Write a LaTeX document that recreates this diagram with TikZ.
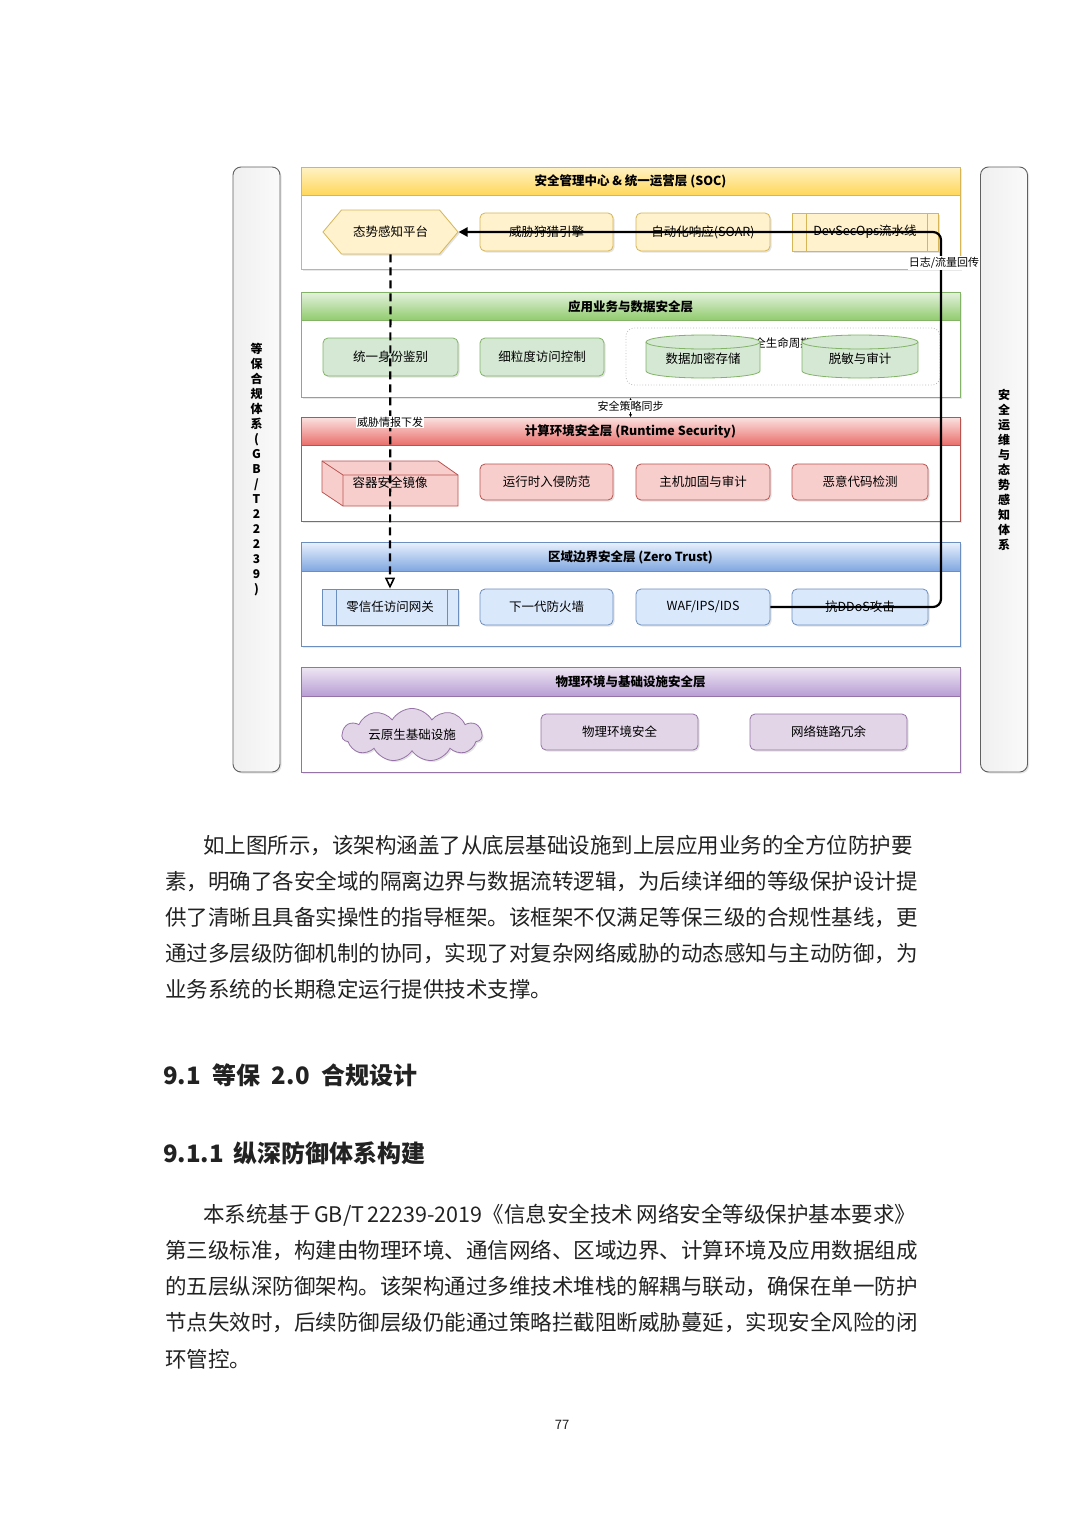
\documentclass[tikz,border=0pt]{standalone}
\usepackage{fontspec}
\setmainfont{Noto Sans CJK SC}
\usetikzlibrary{shapes.geometric,shapes.symbols,shapes.misc,arrows.meta,shadows}
\XeTeXlinebreaklocale "zh"
\XeTeXlinebreakskip=0pt plus 2pt
\definecolor{socB}{HTML}{D6B656}\definecolor{socF}{HTML}{FFF2CC}\definecolor{socT}{HTML}{FFF3C4}\definecolor{socM}{HTML}{FFD659}
\definecolor{appB}{HTML}{82B366}\definecolor{appF}{HTML}{D5E8D4}\definecolor{appT}{HTML}{E3F1DC}\definecolor{appM}{HTML}{8FCB6C}
\definecolor{cmpB}{HTML}{B85450}\definecolor{cmpF}{HTML}{F8CECC}\definecolor{cmpT}{HTML}{FBE1E0}\definecolor{cmpM}{HTML}{E96D69}
\definecolor{bdrB}{HTML}{6C8EBF}\definecolor{bdrF}{HTML}{DAE8FC}\definecolor{bdrT}{HTML}{E8F0FC}\definecolor{bdrM}{HTML}{7EA6E0}
\definecolor{phyB}{HTML}{9673A6}\definecolor{phyF}{HTML}{E1D5E7}\definecolor{phyT}{HTML}{EEE6F3}\definecolor{phyM}{HTML}{B79CD3}
\definecolor{txt}{HTML}{222222}
\newcommand{\bodyf}{\fontsize{21.5}{26}\selectfont}
\begin{document}
\begin{tikzpicture}[x=1pt,y=-1pt,
  lay/.style={draw, line width=1pt, fill=white, minimum width=659pt, inner sep=0pt,
    drop shadow={opacity=0.18,shadow xshift=1.5pt,shadow yshift=-1.5pt}},
  hdr/.style={draw, line width=1pt, minimum width=659pt, minimum height=28pt, inner sep=0pt, anchor=north,
    font=\fontsize{12.5}{14}\selectfont\bfseries},
  unit/.style={draw, line width=0.8pt, rounded corners=5pt, inner sep=2pt, minimum height=37pt,
    font=\fontsize{12.5}{14}\selectfont,
    drop shadow={opacity=0.22,shadow xshift=1.5pt,shadow yshift=-1.5pt}},
  procbox/.style={unit, rounded corners=0pt,
    path picture={\draw[line width=0.8pt] ([xshift=14pt]path picture bounding box.north west) -- ([xshift=14pt]path picture bounding box.south west);
                  \draw[line width=0.8pt] ([xshift=-11pt]path picture bounding box.north east) -- ([xshift=-11pt]path picture bounding box.south east);}},
  lbl/.style={fill=white, inner sep=1.2pt, font=\fontsize{11}{13}\selectfont},
  sidebar/.style={draw=gray!75!black, line width=0.9pt, rounded corners=8pt, minimum width=47pt, minimum height=605pt,
    left color=gray!12, right color=gray!4, inner sep=0pt,
    drop shadow={opacity=0.2,shadow xshift=1.5pt,shadow yshift=-1.5pt},
    font=\fontsize{12}{15}\selectfont\bfseries, align=center},
  conn/.style={line width=2.2pt, black, rounded corners=8pt, -{Triangle[length=9pt,width=9pt]}},
  dconn/.style={line width=2.2pt, black, dash pattern=on 8pt off 5pt, -{Triangle[open,length=11pt,width=10pt,line width=1.6pt]}},
  bodyline/.style={anchor=base west, inner sep=0pt, font=\bodyf, text=txt}
]
\useasboundingbox (0,0) rectangle (1080,1528);
\fill[white] (0,0) rectangle (1080,1528);

% side bars
\node[sidebar] (lbar) at (256.5,469.5) {等\\保\\合\\规\\体\\系\\(\\G\\B\\/\\T\\2\\2\\2\\3\\9\\)};
\node[sidebar] (rbar) at (1004,469.5) {安\\全\\运\\维\\与\\态\\势\\感\\知\\体\\系};

% ===== SOC layer
\node[lay, draw=socB, minimum height=102pt, anchor=north] (socL) at (630.5,167) {};
\node[hdr, draw=socB, top color=socT, bottom color=socM] (socH) at (630.5,167) {安全管理中心 \& 统一运营层 (SOC)};
\node[unit, signal, signal to=west and east, signal pointer angle=100, rounded corners=0pt, draw=socB, fill=socF,
      minimum width=135pt, minimum height=44pt] (hex) at (390.5,232) {态势感知平台};
\node[unit, draw=socB, fill=socF, minimum width=133pt, minimum height=38pt] (hunt) at (546.5,232) {威胁狩猎引擎};
\node[unit, draw=socB, fill=socF, minimum width=134pt, minimum height=38pt] (soar) at (703,232) {自动化响应(SOAR)};
\node[procbox, draw=socB, fill=socF, minimum width=146pt, minimum height=38pt] (devops) at (865,232) {DevSecOps流水线};

% ===== App layer
\node[lay, draw=appB, minimum height=105pt, anchor=north] (appL) at (630.5,292) {};
\node[hdr, draw=appB, top color=appT, bottom color=appM] (appH) at (630.5,292) {应用业务与数据安全层};
\node[unit, draw=appB, fill=appF, minimum width=135pt, minimum height=38pt] (ident) at (390.5,357) {统一身份鉴别};
\node[unit, draw=appB, fill=appF, minimum width=124pt, minimum height=38pt] (acl) at (542,357) {细粒度访问控制};
\node[draw=gray!55, dotted, line width=0.8pt, rounded corners=8pt, minimum width=314pt, minimum height=57pt, inner sep=0pt] (grp) at (783,356.5) {};
\node[font=\fontsize{11.5}{13}\selectfont, inner sep=0pt] (grplbl) at (783,343) {数据全生命周期防护};
% cylinders
\draw[draw=appB, fill=appF, line width=0.8pt] (646,342) -- (646,371) arc[start angle=180,end angle=360,x radius=57pt,y radius=7pt] -- (760,342) arc[start angle=0,end angle=180,x radius=57pt,y radius=7pt] -- cycle;
\draw[draw=appB, line width=0.8pt] (646,342) arc[start angle=180,end angle=360,x radius=57pt,y radius=7pt];
\node[font=\fontsize{12.5}{14}\selectfont, inner sep=0pt] (enc) at (703,359) {数据加密存储};
\draw[draw=appB, fill=appF, line width=0.8pt] (802,342) -- (802,371) arc[start angle=180,end angle=360,x radius=58pt,y radius=7pt] -- (918,342) arc[start angle=0,end angle=180,x radius=58pt,y radius=7pt] -- cycle;
\draw[draw=appB, line width=0.8pt] (802,342) arc[start angle=180,end angle=360,x radius=58pt,y radius=7pt];
\node[font=\fontsize{12.5}{14}\selectfont, inner sep=0pt] (mask) at (860,359) {脱敏与审计};

% ===== Compute layer
\node[lay, draw=cmpB, minimum height=104pt, anchor=north] (cmpL) at (630.5,417) {};
\node[hdr, draw=cmpB, top color=cmpT, bottom color=cmpM] (cmpH) at (630.5,417) {计算环境安全层 (Runtime Security)};
% cube
\draw[draw=cmpB, fill=cmpF, line width=0.8pt] (322,461) -- (438,461) -- (458,475) -- (458,506) -- (343,506) -- (322,492) -- cycle;
\draw[draw=cmpB, line width=0.8pt] (322,461) -- (343,475) -- (458,475) (343,475) -- (343,506);
\node[font=\fontsize{12.5}{14}\selectfont, inner sep=0pt] (img) at (390,483) {容器安全镜像};
\node[unit, draw=cmpB, fill=cmpF, minimum width=133pt, minimum height=36pt] (rasp) at (546.5,482) {运行时入侵防范};
\node[unit, draw=cmpB, fill=cmpF, minimum width=134pt, minimum height=36pt] (host) at (703,482) {主机加固与审计};
\node[unit, draw=cmpB, fill=cmpF, minimum width=136pt, minimum height=36pt] (mal) at (860,482) {恶意代码检测};

% ===== Border layer
\node[lay, draw=bdrB, minimum height=104pt, anchor=north] (bdrL) at (630.5,542) {};
\node[hdr, draw=bdrB, top color=bdrT, bottom color=bdrM, minimum height=29pt] (bdrH) at (630.5,542) {区域边界安全层 (Zero Trust)};
\node[procbox, draw=bdrB, fill=bdrF, minimum width=136pt, minimum height=36pt] (zt) at (390,607) {零信任访问网关};
\node[unit, draw=bdrB, fill=bdrF, minimum width=133pt, minimum height=36pt] (ngfw) at (546.5,607) {下一代防火墙};
\node[unit, draw=bdrB, fill=bdrF, minimum width=134pt, minimum height=36pt] (waf) at (703,607) {WAF/IPS/IDS};
\node[unit, draw=bdrB, fill=bdrF, minimum width=136pt, minimum height=36pt] (ddos) at (860,607) {抗DDoS攻击};

% ===== Physical layer
\node[lay, draw=phyB, minimum height=105pt, anchor=north] (phyL) at (630.5,667) {};
\node[hdr, draw=phyB, top color=phyT, bottom color=phyM, minimum height=29pt] (phyH) at (630.5,667) {物理环境与基础设施安全层};
\node[cloud, cloud puffs=11, cloud puff arc=120, aspect=3.6, draw=phyB, fill=phyF, line width=0.8pt, inner sep=0pt,
      minimum width=140pt, minimum height=38pt, font=\fontsize{12.5}{14}\selectfont,
      drop shadow={opacity=0.22,shadow xshift=1.5pt,shadow yshift=-1.5pt}] (cloudn) at (412,735) {云原生基础设施};
\node[unit, draw=phyB, fill=phyF, minimum width=157pt, minimum height=36pt] (physec) at (619.5,732) {物理环境安全};
\node[unit, draw=phyB, fill=phyF, minimum width=157pt, minimum height=36pt] (link) at (828.5,732) {网络链路冗余};

% ===== connectors
\coordinate (c1) at (941,607);
\coordinate (c2) at (941,232);
\draw[conn] (waf.east) -- (c1) -- (c2) -- (hex.east);
\node[lbl] (loglbl) at (944,263) {日志/流量回传};
\draw[dconn] (hex.south) -- (zt.north);
\node[lbl] (tilbl) at (390,422) {威胁情报下发};
\draw[line width=0.6pt, {Stealth[length=3pt,width=3pt]}-{Stealth[length=3pt,width=3pt]}] (appL.south) -- (cmpH.north);
\node[lbl] (synclbl) at (630.5,406) {安全策略同步};

% ===== body text
\node[bodyline] (p1a) at (203,853) {\hbox to 713pt{如上图所示，该架构涵盖了从底层基础设施到上层应用业务的全方位防护要}};
\node[bodyline] (p1b) at (165,889) {\hbox to 751pt{素，明确了各安全域的隔离边界与数据流转逻辑，为后续详细的等级保护设计提}};
\node[bodyline] (p1c) at (165,925) {\hbox to 751pt{供了清晰且具备实操性的指导框架。该框架不仅满足等保三级的合规性基线，更}};
\node[bodyline] (p1d) at (165,961) {\hbox to 751pt{通过多层级防御机制的协同，实现了对复杂网络威胁的动态感知与主动防御，为}};
\node[bodyline] (p1e) at (165,997) {业务系统的长期稳定运行提供技术支撑。};

\node[anchor=base west, inner sep=0pt, font=\fontsize{24}{28}\selectfont\bfseries, text=txt] (h1) at (163,1084) {\hbox to 254pt{9.1\hfil 等保\hfil 2.0\hfil 合规设计}};
\node[anchor=base west, inner sep=0pt, font=\fontsize{24}{28}\selectfont\bfseries, text=txt] (h2) at (163,1162) {\hbox to 262pt{9.1.1\hfil 纵深防御体系构建}};

\node[bodyline] (p2a) at (203,1222) {\hbox to 713pt{本系统基于 GB/T 22239-2019《信息安全技术 网络安全等级保护基本要求》}};
\node[bodyline] (p2b) at (165,1258) {\hbox to 751pt{第三级标准，构建由物理环境、通信网络、区域边界、计算环境及应用数据组成}};
\node[bodyline] (p2c) at (165,1294) {\hbox to 751pt{的五层纵深防御架构。该架构通过多维技术堆栈的解耦与联动，确保在单一防护}};
\node[bodyline] (p2d) at (165,1330) {\hbox to 751pt{节点失效时，后续防御层级仍能通过策略拦截阻断威胁蔓延，实现安全风险的闭}};
\node[bodyline] (p2e) at (165,1367) {环管控。};

\node[font=\fontsize{13}{15}\selectfont, text=txt] (pg) at (562,1425) {77};
\end{tikzpicture}
\end{document}
